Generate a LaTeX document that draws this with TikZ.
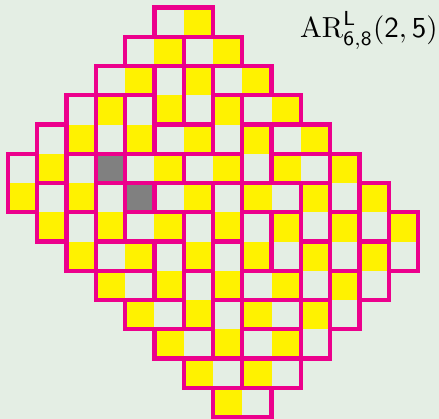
\documentclass[tikz,border=0pt]{standalone}
\definecolor{bg}{RGB}{228,238,228}
\definecolor{yel}{RGB}{255,242,0}
\definecolor{mag}{RGB}{236,0,140}
\definecolor{gry}{RGB}{128,128,128}
\tikzset{
  dom/.style={draw=mag, line width=4.3pt},
  ycell/.style={fill=yel},
  gcell/.style={fill=gry},
}
\begin{document}
\begin{tikzpicture}[x=1pt,y=-1pt]
\fill[bg] (0,0) rectangle (439,419);
\useasboundingbox (0,0) rectangle (439,419);
\begin{scope}[shift={(8,7.6)},x=29.29pt,y=-29.25pt]
% checkerboard cells
\foreach \r/\a/\b in {0/5/6,1/4/7,2/3/8,3/2/9,4/1/10,5/0/11,6/0/12,7/1/13,8/2/13,9/3/12,10/4/11,11/5/10,12/6/9,13/7/8}{
  \foreach \c in {\a,...,\b}{
    \pgfmathtruncatemacro{\p}{mod(\r+\c,2)}
    \ifnum\p=0 \fill[ycell] (\c,\r) rectangle ++(1,1); \fi
  }
}
% removed cells
\fill[gcell] (3,5) rectangle ++(1,1);
\fill[gcell] (4,6) rectangle ++(1,1);
% horizontal dominoes (row/col of left cell)
\foreach \r/\c in {0/5,1/4,1/6,2/3,2/7,3/8,4/5,4/9,5/4,5/6,5/9,6/5,6/8,7/4,8/3,9/3,9/8,10/4,10/8,11/5,11/8,12/6,12/8,13/7}
  \draw[dom] (\c,\r) rectangle ++(2,1);
% vertical dominoes (row/col of top cell)
\foreach \r/\c in {2/5,2/6,3/2,3/3,3/4,3/7,4/1,4/8,5/0,5/2,5/11,6/1,6/3,6/7,6/10,6/12,7/2,7/6,7/8,7/9,7/11,7/13,8/5,8/7,8/10,8/12,9/6,9/11,10/7,10/10}
  \draw[dom] (\c,\r) rectangle ++(1,2);
% outlines of removed cells
\draw[dom] (3,5) rectangle ++(1,1);
\draw[dom] (4,6) rectangle ++(1,1);
\end{scope}
\node[anchor=base west, inner sep=0pt] (title) at (300,38)
  {\scalebox{2.9}{$\mathrm{AR}^{\mathsf{L}}_{\mathsf{6,8}}(\mathsf{2},\mathsf{5})$}};
\end{tikzpicture}
\end{document}
